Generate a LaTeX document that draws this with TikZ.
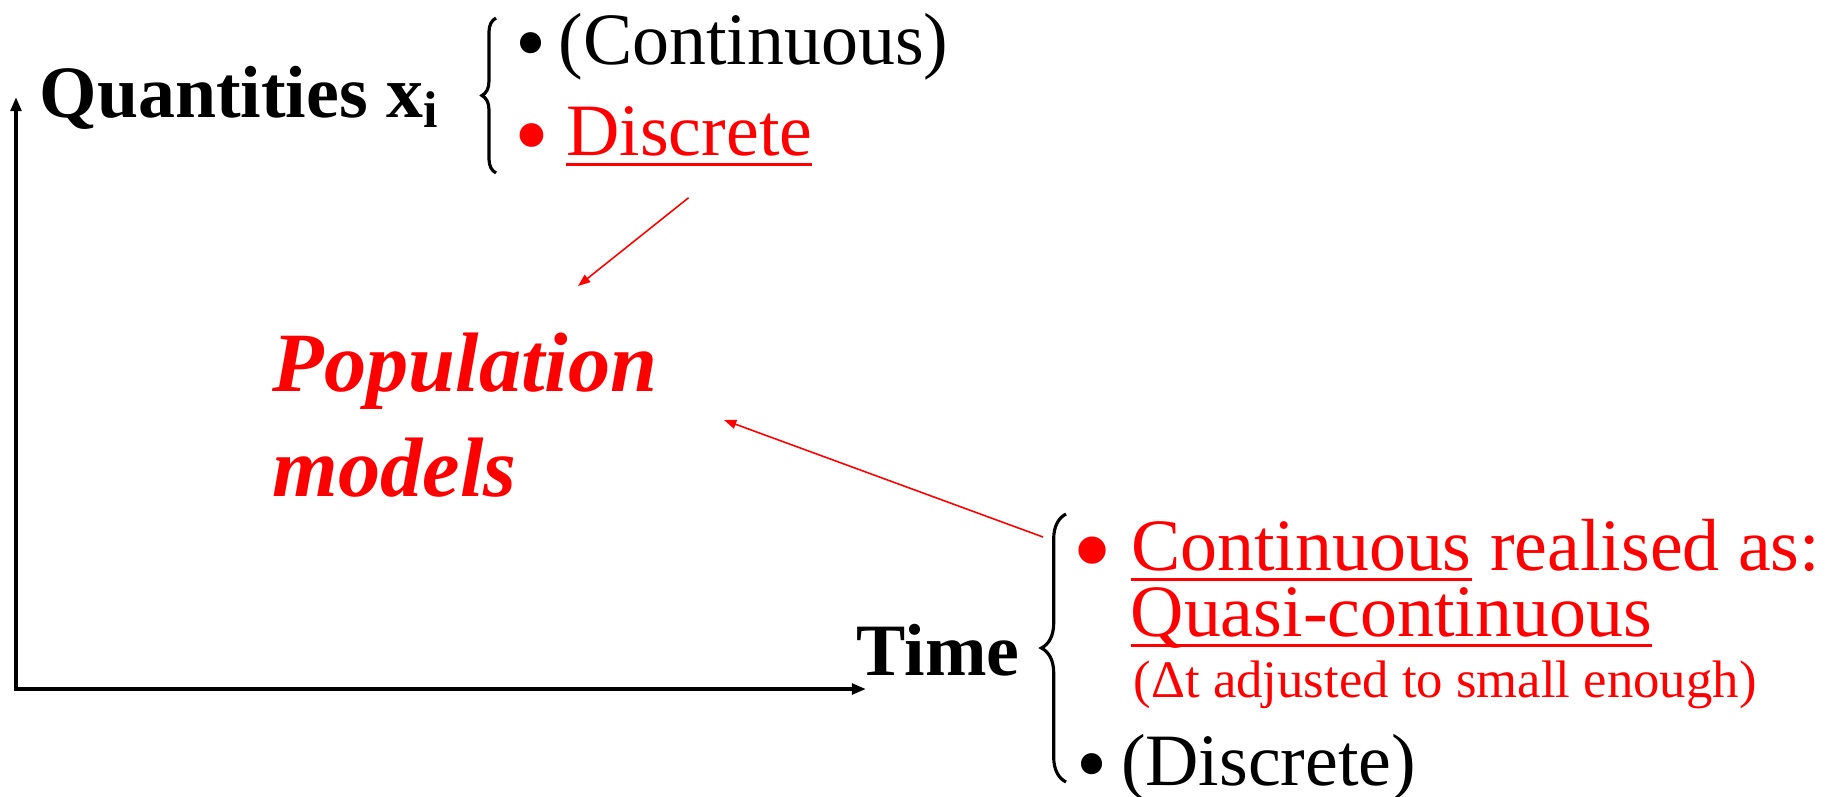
\documentclass[tikz,border=0pt]{standalone}
\usepackage{fontspec}
\usepackage{graphicx}
\setmainfont{Liberation Serif}
\usetikzlibrary{arrows.meta,decorations.pathreplacing}
\definecolor{pptred}{RGB}{255,0,0}
\newcommand{\ulin}[1]{\setbox0\hbox{#1}\rlap{\rule[-3.1pt]{\wd0}{0.9pt}}\box0\relax}
\newcommand{\blt}[3]{\makebox[#3][l]{\raisebox{-#2}{\scalebox{#1}{\textbullet}}}}
\tikzset{
  lbl/.style={anchor=base west, inner sep=0pt, font=\fontsize{21}{25}\selectfont},
  boldlbl/.style={lbl, font=\fontsize{21}{25}\selectfont\bfseries},
  poplbl/.style={lbl, text=pptred, font=\fontsize{24}{29}\selectfont\bfseries\itshape},
  axis/.style={line width=1.1pt, {Triangle[length=4pt,width=3pt]}-{Triangle[length=4pt,width=3pt]}},
  link/.style={pptred, line width=0.45pt, -{Triangle[length=3.5pt,width=2.6pt]}},
  curly/.style={line width=0.9pt, decorate, decoration={brace, amplitude=#1}},
  curly/.default=4pt
}
\begin{document}
\begin{tikzpicture}[x=0.01cm, y=-0.01cm]
\useasboundingbox (0,0) rectangle (1831,796);

% Draw axes
\coordinate (ytip) at (16,97);
\coordinate (xtip) at (866,689);
\draw[axis] (ytip) |- (xtip);
\node[boldlbl] (quant) at (39,117) {Quantities x\textsubscript{i}};
\node[boldlbl] (time) at (856,675) {Time};

% Quantities branch
\draw[curly] (496,173) -- (496,18);
\node[lbl] (qcont) at (515,64) {\blt{1.2}{2.3pt}{0.58em}(Continuous)};
\node[lbl, text=pptred] (qdisc) at (514,155) {\blt{1.35}{3.7pt}{0.7em}\ulin{Discrete}};

% Time branch
\draw[curly=7pt] (1066,782) -- (1066,514);
\node[lbl, text=pptred] (tcont) at (1072,570) {\blt{1.55}{5.3pt}{0.79em}\ulin{Continuous} realised as:};
\node[lbl, text=pptred] (tquasi) at (1130,636) {\ulin{Quasi-continuous}};
\node[lbl, text=pptred, font=\fontsize{15}{18}\selectfont] (tstep) at (1133,697) {(Δt adjusted to small enough)};
\node[lbl] (tdisc) at (1076,785) {\blt{1.2}{2.3pt}{0.6em}(Discrete)};

% Population models
\node[poplbl] (popa) at (272,391) {Population};
\node[poplbl] (popb) at (272,496) {models};

% Links to the models
\coordinate (popin1) at (578,286);
\coordinate (popin2) at (724,420);
\draw[link] ([shift={(25,29)}]qdisc.south) -- (popin1);
\draw[link] ([shift={(-29,-33)}]tcont.base west) -- (popin2);
\end{tikzpicture}
\end{document}
